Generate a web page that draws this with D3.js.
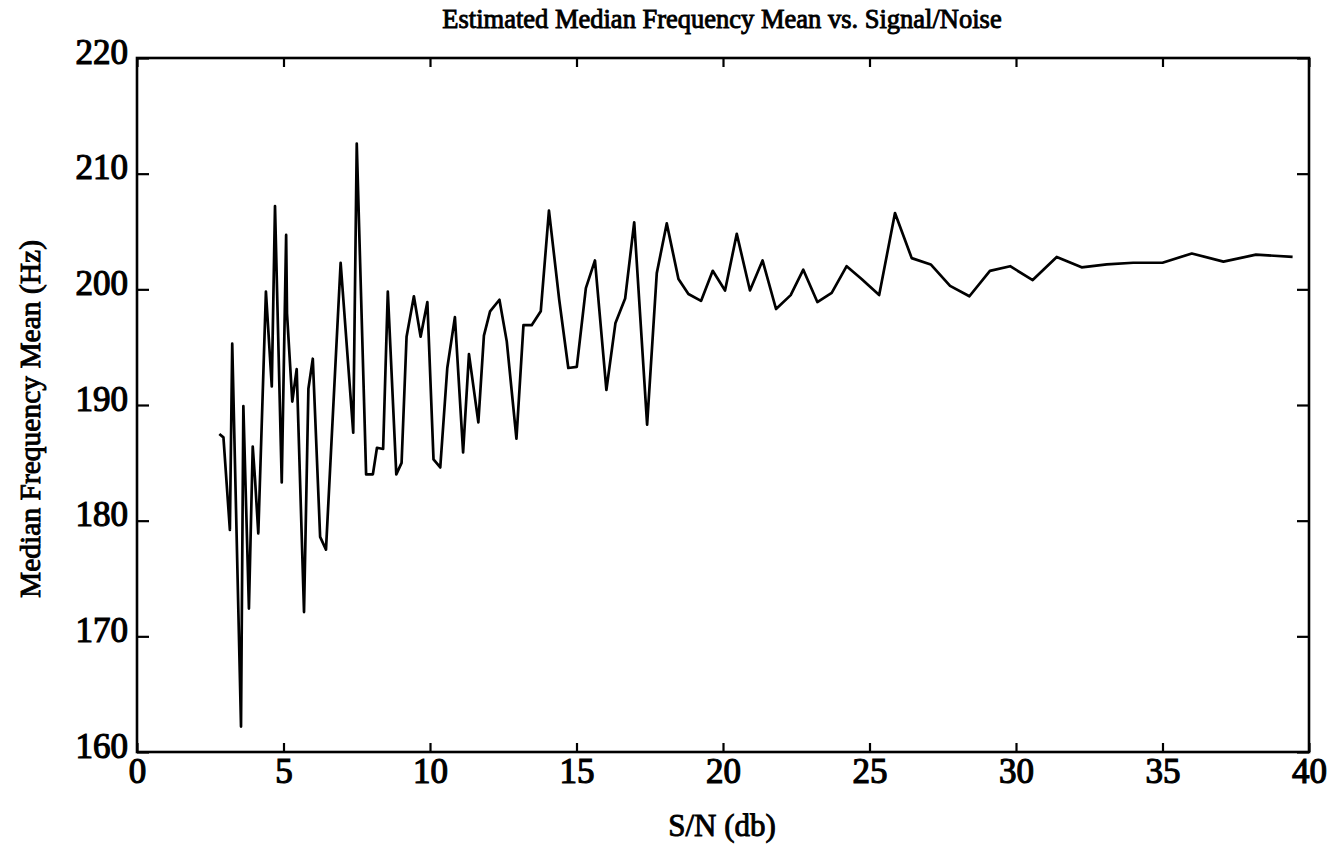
<!DOCTYPE html>
<html>
<head>
<meta charset="utf-8">
<script src="https://cdn.jsdelivr.net/npm/d3@7"></script>
<style>
  html, body { margin: 0; padding: 0; background: #fff; }
  svg text { font-family: "Liberation Serif", "Times New Roman", serif; fill: #000; }
</style>
</head>
<body>
<svg id="chart" width="1330" height="860"></svg>
<script>
// Signal-to-noise ratio of each run (dB)
const snr = [
  2.81, 2.95, 3.17, 3.25, 3.55, 3.63, 3.82, 3.95, 4.03, 4.14,
  4.40, 4.60, 4.71, 4.94, 5.09, 5.12, 5.30, 5.45, 5.70, 5.85,
  6.00, 6.25, 6.45, 6.95, 7.38, 7.50, 7.82, 8.05, 8.19, 8.40,
  8.56, 8.85, 9.03, 9.20, 9.45, 9.68, 9.91, 10.12, 10.35, 10.59,
  10.85, 11.13, 11.33, 11.65, 11.84, 12.05, 12.37, 12.62, 12.95, 13.19,
  13.47, 13.78, 14.06, 14.41, 14.72, 15.01, 15.32, 15.63, 16.02, 16.33,
  16.66, 16.97, 17.41, 17.74, 18.08, 18.48, 18.82, 19.25, 19.65, 20.07,
  20.47, 20.92, 21.35, 21.81, 22.31, 22.74, 23.22, 23.71, 24.22, 24.73,
  25.33, 25.87, 26.44, 27.09, 27.75, 28.41, 29.11, 29.80, 30.57, 31.39,
  32.24, 33.10, 34.00, 35.00, 36.00, 37.08, 38.19, 39.44
];

// Estimated median frequency mean for each run (Hz)
const medianFreq = [
  187.5, 187.2, 179.2, 195.3, 162.2, 189.9, 172.4, 186.4, 183.5, 178.9,
  199.8, 191.6, 207.2, 183.3, 204.7, 197.9, 190.3, 193.1, 172.1, 191.4,
  194.0, 178.6, 177.5, 202.3, 187.6, 212.6, 184.0, 184.0, 186.3, 186.2,
  199.8, 184.0, 185.0, 195.9, 199.4, 195.9, 198.9, 185.3, 184.6, 193.2,
  197.6, 185.9, 194.4, 188.5, 196.0, 198.1, 199.1, 195.5, 187.1, 196.9,
  196.9, 198.1, 206.8, 199.1, 193.2, 193.3, 200.1, 202.5, 191.3, 197.1,
  199.2, 205.8, 188.3, 201.4, 205.7, 200.9, 199.6, 199.0, 201.6, 199.9,
  204.8, 199.9, 202.5, 198.3, 199.5, 201.7, 198.9, 199.7, 202.0, 200.9,
  199.5, 206.6, 202.7, 202.15, 200.3, 199.4, 201.6, 202.0, 200.8, 202.8,
  201.9, 202.15, 202.3, 202.3, 203.1, 202.4, 203.0, 202.8
];

const xTicks = [0, 5, 10, 15, 20, 25, 30, 35, 40];
const yTicks = [160, 170, 180, 190, 200, 210, 220];

const titleText = "Estimated Median Frequency Mean vs. Signal/Noise";
const xLabelText = "S/N (db)";
const yLabelText = "Median Frequency Mean (Hz)";

const svg = d3.select("#chart");
const margin = { left: 137, right: 21, top: 58, bottom: 108 };
const W = 1330, H = 860;

const x = d3.scaleLinear().domain([0, 40]).range([margin.left, W - margin.right]);
const y = d3.scaleLinear().domain([160, 220]).range([H - margin.bottom, margin.top]);

const points = snr.map((s, i) => [s, medianFreq[i]]);

// Data line
svg.append("path")
  .datum(points)
  .attr("fill", "none")
  .attr("stroke", "#000")
  .attr("stroke-width", 2.7)
  .attr("stroke-linejoin", "round")
  .attr("d", d3.line().x(d => x(d[0])).y(d => y(d[1])));

// Axes with inward ticks on all four sides
const bottomAxis = d3.axisBottom(x).tickValues(xTicks).tickSize(-9).tickPadding(11).tickFormat(d3.format("d"));
const topAxis = d3.axisTop(x).tickValues(xTicks).tickSize(-9).tickFormat("");
const leftAxis = d3.axisLeft(y).tickValues(yTicks).tickSize(-12).tickPadding(9).tickFormat(d3.format("d"));
const rightAxis = d3.axisRight(y).tickValues(yTicks).tickSize(-12).tickFormat("");

function styleAxis(g) {
  g.select(".domain").remove();
  g.selectAll(".tick line").attr("stroke", "#000").attr("stroke-width", 2.2);
  g.selectAll(".tick text")
    .attr("font-size", 35)
    .attr("font-family", "'Liberation Serif', serif")
    .attr("fill", "#000")
    .attr("stroke", "#000")
    .attr("stroke-width", 1.2);
}

svg.append("g").attr("transform", `translate(0,${y(160)})`).call(bottomAxis).call(styleAxis)
  .selectAll(".tick text").attr("dy", "0.58em");
svg.append("g").attr("transform", `translate(0,${y(220)})`).call(topAxis).call(styleAxis);
svg.append("g").attr("transform", `translate(${x(0)},0)`).call(leftAxis).call(styleAxis)
  .selectAll(".tick text").attr("dy", "0.15em");
svg.append("g").attr("transform", `translate(${x(40)},0)`).call(rightAxis).call(styleAxis);

// Plot frame
svg.append("rect")
  .attr("x", x(0)).attr("y", y(220))
  .attr("width", x(40) - x(0)).attr("height", y(160) - y(220))
  .attr("fill", "none").attr("stroke", "#000").attr("stroke-width", 2.6);

// Title and axis labels
svg.append("text")
  .attr("x", 722).attr("y", 28)
  .attr("text-anchor", "middle")
  .attr("font-size", 26.5)
  .attr("stroke", "#000").attr("stroke-width", 0.9)
  .text(titleText);

svg.append("text")
  .attr("x", 722).attr("y", 836)
  .attr("text-anchor", "middle")
  .attr("font-size", 31)
  .attr("stroke", "#000").attr("stroke-width", 0.9)
  .text(xLabelText);

svg.append("text")
  .attr("transform", `translate(40,${(y(160) + y(220)) / 2 + 14}) rotate(-90)`)
  .attr("text-anchor", "middle")
  .attr("font-size", 29.5)
  .attr("stroke", "#000").attr("stroke-width", 0.9)
  .text(yLabelText);
</script>
</body>
</html>
